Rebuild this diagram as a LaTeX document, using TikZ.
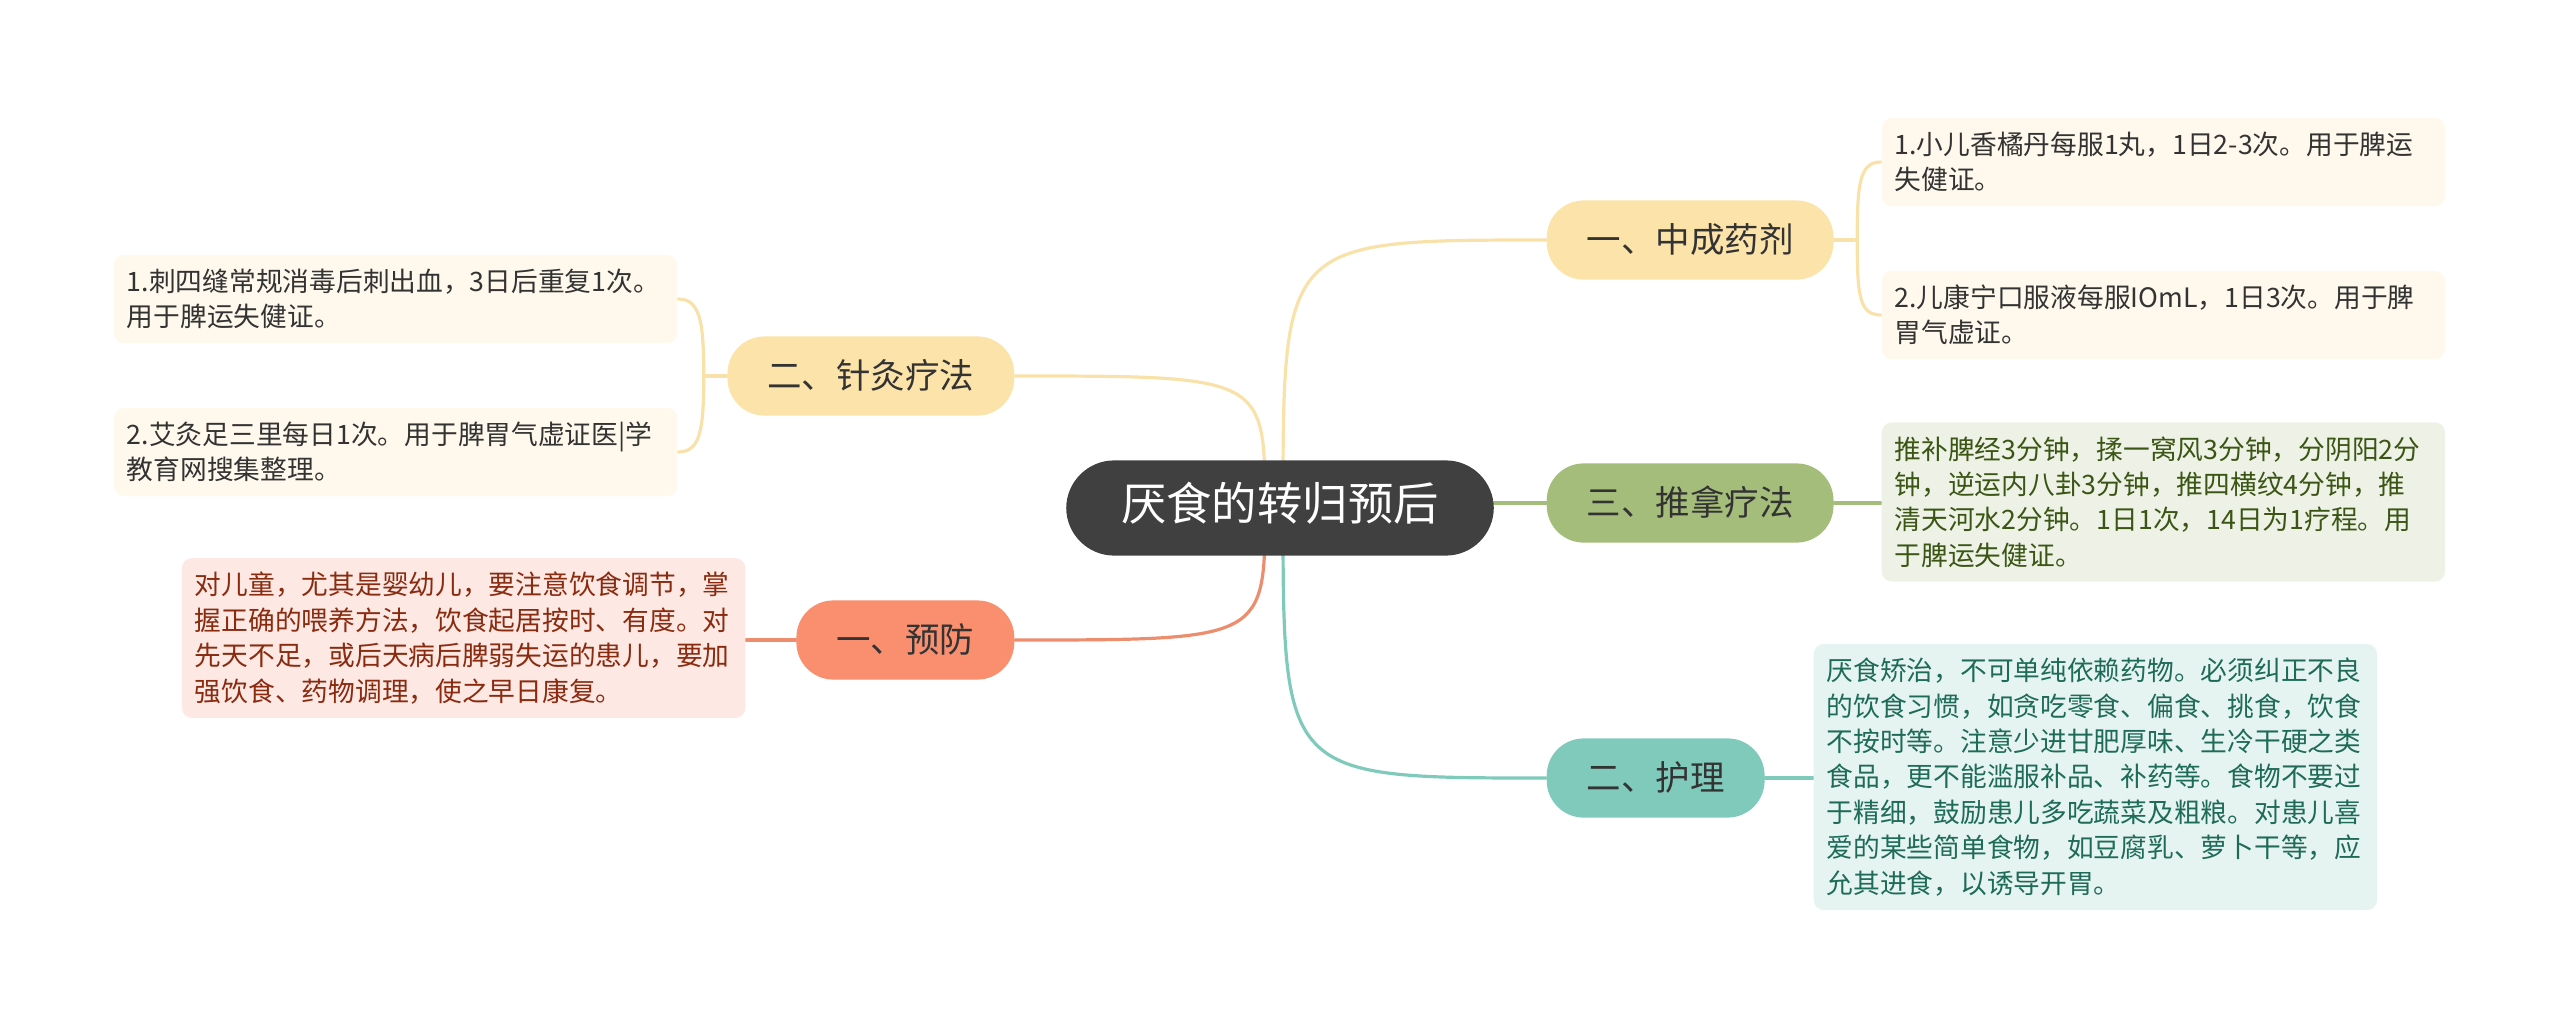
\documentclass[tikz,border=0pt]{standalone}
\usepackage{fontspec}
\setmainfont{Noto Sans CJK SC}
\usepackage{tikz}
\usetikzlibrary{positioning}
\definecolor{rootgray}{HTML}{404040}
\definecolor{topictext}{HTML}{333333}
\definecolor{ybranch}{HTML}{FCE3A9}
\definecolor{yline}{HTML}{F9E1AA}
\definecolor{yleaf}{HTML}{FEF9EC}
\definecolor{gbranch}{HTML}{A5BD7A}
\definecolor{gleaf}{HTML}{EEF2E6}
\definecolor{gtext}{HTML}{3A5514}
\definecolor{tbranch}{HTML}{80CABB}
\definecolor{tleaf}{HTML}{E6F4F1}
\definecolor{ttext}{HTML}{1E6B58}
\definecolor{obranch}{HTML}{F98F6F}
\definecolor{oline}{HTML}{EC8E6E}
\definecolor{oleaf}{HTML}{FDE8E3}
\definecolor{otext}{HTML}{8A2B10}
\pgfdeclarelayer{bg}
\pgfsetlayers{bg,main}

\begin{document}
\begin{tikzpicture}[x=0.01cm, y=-0.01cm,
	rootnode/.style={fill=rootgray, text=white, rounded corners=0.48cm, inner xsep=0.55cm, inner ysep=0.3cm,
		text height=0.86em, text depth=0.14em, font=\fontsize{12.9}{15}\selectfont},
	topic/.style={rounded corners=0.37cm, inner xsep=0.4cm, inner ysep=0.22cm, text=topictext,
		text height=0.86em, text depth=0.14em, font=\fontsize{9.8}{12}\selectfont},
	leaf/.style={rounded corners=0.1cm, align=left, text width=5.37cm, inner xsep=0.13cm, inner ysep=0.14cm,
		font=\fontsize{7.6}{10.07}\selectfont},
	link/.style={line width=0.032cm, line cap=round}]
		\useasboundingbox (0,0) rectangle (2560,1027);

		\node [rootnode] (root) at (1280,508) {厌食的转归预后};
		\coordinate (rl) at (1265,508);
		\coordinate (rr) at (1283,508);

		\node [topic, fill=ybranch, anchor=west] (zc) at (1546,240) {一、中成药剂};
		\node [topic, fill=gbranch, anchor=west] (tn) at (1546,503) {三、推拿疗法};
		\node [topic, fill=tbranch, anchor=west] (hl) at (1546,778) {二、护理};
		\node [topic, fill=ybranch, anchor=east] (zj) at (1015,376) {二、针灸疗法};
		\node [topic, fill=obranch, anchor=east] (yf) at (1015,640) {一、预防};

		\node [leaf, fill=yleaf, text=topictext, anchor=west] (zc1) at (1881,162)
			{1.小儿香橘丹每服1丸，1日2-3次。用于脾运\\失健证。};
		\node [leaf, fill=yleaf, text=topictext, anchor=west] (zc2) at (1881,315)
			{2.儿康宁口服液每服IOmL，1日3次。用于脾\\胃气虚证。};
		\node [leaf, fill=gleaf, text=gtext, anchor=west] (tn1) at (1881,502)
			{推补脾经3分钟，揉一窝风3分钟，分阴阳2分\\钟，逆运内八卦3分钟，推四横纹4分钟，推\\清天河水2分钟。1日1次，14日为1疗程。用\\于脾运失健证。};
		\node [leaf, fill=tleaf, text=ttext, anchor=west] (hl1) at (1813,777)
			{厌食矫治，不可单纯依赖药物。必须纠正不良\\的饮食习惯，如贪吃零食、偏食、挑食，饮食\\不按时等。注意少进甘肥厚味、生冷干硬之类\\食品，更不能滥服补品、补药等。食物不要过\\于精细，鼓励患儿多吃蔬菜及粗粮。对患儿喜\\爱的某些简单食物，如豆腐乳、萝卜干等，应\\允其进食，以诱导开胃。};
		\node [leaf, fill=yleaf, text=topictext, anchor=east] (zj1) at (678,299)
			{1.刺四缝常规消毒后刺出血，3日后重复1次。\\用于脾运失健证。};
		\node [leaf, fill=yleaf, text=topictext, anchor=east] (zj2) at (678,452)
			{2.艾灸足三里每日1次。用于脾胃气虚证医|学\\教育网搜集整理。};
		\node [leaf, fill=oleaf, text=otext, anchor=east] (yf1) at (746,638)
			{对儿童，尤其是婴幼儿，要注意饮食调节，掌\\握正确的喂养方法，饮食起居按时、有度。对\\先天不足，或后天病后脾弱失运的患儿，要加\\强饮食、药物调理，使之早日康复。};

		\begin{pgfonlayer}{bg}
		\draw [link, yline] (rr) .. controls (rr |- zc.west) .. (zc.west);
		\draw [link, gbranch] (root.east |- tn.west) -- (tn.west);
		\draw [link, tbranch] (rr) .. controls (rr |- hl.west) .. (hl.west);
		\draw [link, yline] (rl) .. controls (rl |- zj.east) .. (zj.east);
		\draw [link, oline] (rl) .. controls (rl |- yf.east) .. (yf.east);

		\draw [link, yline] (zc.east) -- ++(23,0) coordinate (zcb);
		\draw [link, yline] (zcb) .. controls +(0,-55) and +(-22,0) .. (zc1.west);
		\draw [link, yline] (zcb) .. controls +(0,55) and +(-22,0) .. (zc2.west);
		\draw [link, yline] (zj.west) -- ++(-23,0) coordinate (zjb);
		\draw [link, yline] (zjb) .. controls +(0,-55) and +(22,0) .. (zj1.east);
		\draw [link, yline] (zjb) .. controls +(0,55) and +(22,0) .. (zj2.east);
		\draw [link, gbranch] (tn.east) -- (tn.east -| tn1.west);
		\draw [link, tbranch] (hl.east) -- (hl.east -| hl1.west);
		\draw [link, oline] (yf.west) -- (yf.west -| yf1.east);
		\end{pgfonlayer}
	\end{tikzpicture}
\end{document}
